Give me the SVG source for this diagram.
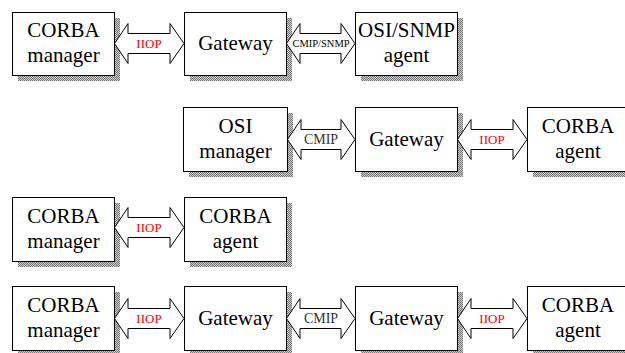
<svg xmlns="http://www.w3.org/2000/svg" width="625" height="353" viewBox="0 0 625 353">
<style>
.box{fill:#fff;stroke:#000;stroke-width:1}
.sh{fill:url(#dither)}
text{font-family:'Liberation Serif','DejaVu Serif',serif;text-anchor:middle}
.t{font-size:21px;fill:#000}
.arr{fill:#fff;stroke:#000;stroke-width:1;stroke-linejoin:miter}
.red{font-size:13px;fill:#ff0000}
.blk{font-size:14px;fill:#333}
.sm{font-size:10.5px;fill:#000}
</style>
<defs>
<pattern id="dither" width="2" height="2" patternUnits="userSpaceOnUse">
<rect width="2" height="2" fill="#c8c8c8"/>
<rect width="1" height="1" fill="#7a7a7a"/>
<rect x="1" y="1" width="1" height="1" fill="#7a7a7a"/>
</pattern>
</defs>
<rect width="625" height="353" fill="#fff"/>

<g id="shadows">
<rect class="sh" x="18" y="18" width="102" height="63"/>
<rect class="sh" x="190" y="18" width="102" height="63"/>
<rect class="sh" x="361" y="18" width="102" height="63"/>
<rect class="sh" x="189" y="113" width="104" height="64"/>
<rect class="sh" x="361" y="113" width="102" height="64"/>
<rect class="sh" x="533" y="113" width="102" height="64"/>
<rect class="sh" x="18" y="203" width="102" height="64"/>
<rect class="sh" x="190" y="203" width="102" height="64"/>
<rect class="sh" x="18" y="292" width="102" height="64"/>
<rect class="sh" x="190" y="292" width="102" height="64"/>
<rect class="sh" x="361" y="292" width="102" height="64"/>
<rect class="sh" x="533" y="292" width="102" height="64"/>
</g>

<g id="connectors">
<path class="arr" d="M114.5,43.5 L128,23.5 L128,33.5 L170,33.5 L170,23.5 L184,43.5 L170,63.5 L170,53.5 L128,53.5 L128,63.5 Z"/>
<text class="red" x="149" y="47.5">IIOP</text>
<path class="arr" d="M286.5,43.5 L300,23.5 L300,33.5 L341,33.5 L341,23.5 L355,43.5 L341,63.5 L341,53.5 L300,53.5 L300,63.5 Z"/>
<text class="sm" x="321" y="47">CMIP/SNMP</text>

<path class="arr" d="M287.5,139.5 L301,119.5 L301,129.5 L341,129.5 L341,119.5 L355,139.5 L341,159.5 L341,149.5 L301,149.5 L301,159.5 Z"/>
<text class="blk" x="321" y="144">CMIP</text>
<path class="arr" d="M457.5,139.5 L471,119.5 L471,129.5 L513,129.5 L513,119.5 L527,139.5 L513,159.5 L513,149.5 L471,149.5 L471,159.5 Z"/>
<text class="red" x="492" y="143.5">IIOP</text>

<path class="arr" d="M114.5,227.5 L128,207.5 L128,217.5 L170,217.5 L170,207.5 L184,227.5 L170,247.5 L170,237.5 L128,237.5 L128,247.5 Z"/>
<text class="red" x="149" y="231.5">IIOP</text>

<path class="arr" d="M114.5,318.5 L128,298.5 L128,308.5 L170,308.5 L170,298.5 L184,318.5 L170,338.5 L170,328.5 L128,328.5 L128,338.5 Z"/>
<text class="red" x="149" y="322.5">IIOP</text>
<path class="arr" d="M286.5,318.5 L300,298.5 L300,308.5 L341,308.5 L341,298.5 L355,318.5 L341,338.5 L341,328.5 L300,328.5 L300,338.5 Z"/>
<text class="blk" x="321" y="323">CMIP</text>
<path class="arr" d="M457.5,318.5 L471,298.5 L471,308.5 L513,308.5 L513,298.5 L527,318.5 L513,338.5 L513,328.5 L471,328.5 L471,338.5 Z"/>
<text class="red" x="492" y="322.5">IIOP</text>
</g>

<g id="r1-corba-manager">
<rect class="box" x="12.5" y="12.5" width="102" height="63"/>
<text class="t" x="63.5" y="37">CORBA</text>
<text class="t" x="63.5" y="62">manager</text>
</g>
<g id="r1-gateway">
<rect class="box" x="184.5" y="12.5" width="102" height="63"/>
<text class="t" x="235.5" y="50">Gateway</text>
</g>
<g id="r1-osisnmp-agent">
<rect class="box" x="355.5" y="12.5" width="102" height="63"/>
<text class="t" x="406.5" y="37">OSI/SNMP</text>
<text class="t" x="406.5" y="62">agent</text>
</g>

<g id="r2-osi-manager">
<rect class="box" x="183.5" y="107.5" width="104" height="64"/>
<text class="t" x="235.5" y="133">OSI</text>
<text class="t" x="235.5" y="158">manager</text>
</g>
<g id="r2-gateway">
<rect class="box" x="355.5" y="107.5" width="102" height="64"/>
<text class="t" x="406.5" y="146">Gateway</text>
</g>
<g id="r2-corba-agent">
<rect class="box" x="527.5" y="107.5" width="102" height="64"/>
<text class="t" x="578" y="133">CORBA</text>
<text class="t" x="578" y="158">agent</text>
</g>

<g id="r3-corba-manager">
<rect class="box" x="12.5" y="197.5" width="102" height="64"/>
<text class="t" x="63.5" y="223">CORBA</text>
<text class="t" x="63.5" y="248">manager</text>
</g>
<g id="r3-corba-agent">
<rect class="box" x="184.5" y="197.5" width="102" height="64"/>
<text class="t" x="235.5" y="223">CORBA</text>
<text class="t" x="235.5" y="248">agent</text>
</g>

<g id="r4-corba-manager">
<rect class="box" x="12.5" y="286.5" width="102" height="64"/>
<text class="t" x="63.5" y="312">CORBA</text>
<text class="t" x="63.5" y="337">manager</text>
</g>
<g id="r4-gateway1">
<rect class="box" x="184.5" y="286.5" width="102" height="64"/>
<text class="t" x="235.5" y="325">Gateway</text>
</g>
<g id="r4-gateway2">
<rect class="box" x="355.5" y="286.5" width="102" height="64"/>
<text class="t" x="406.5" y="325">Gateway</text>
</g>
<g id="r4-corba-agent">
<rect class="box" x="527.5" y="286.5" width="102" height="64"/>
<text class="t" x="578" y="312">CORBA</text>
<text class="t" x="578" y="337">agent</text>
</g>
</svg>
